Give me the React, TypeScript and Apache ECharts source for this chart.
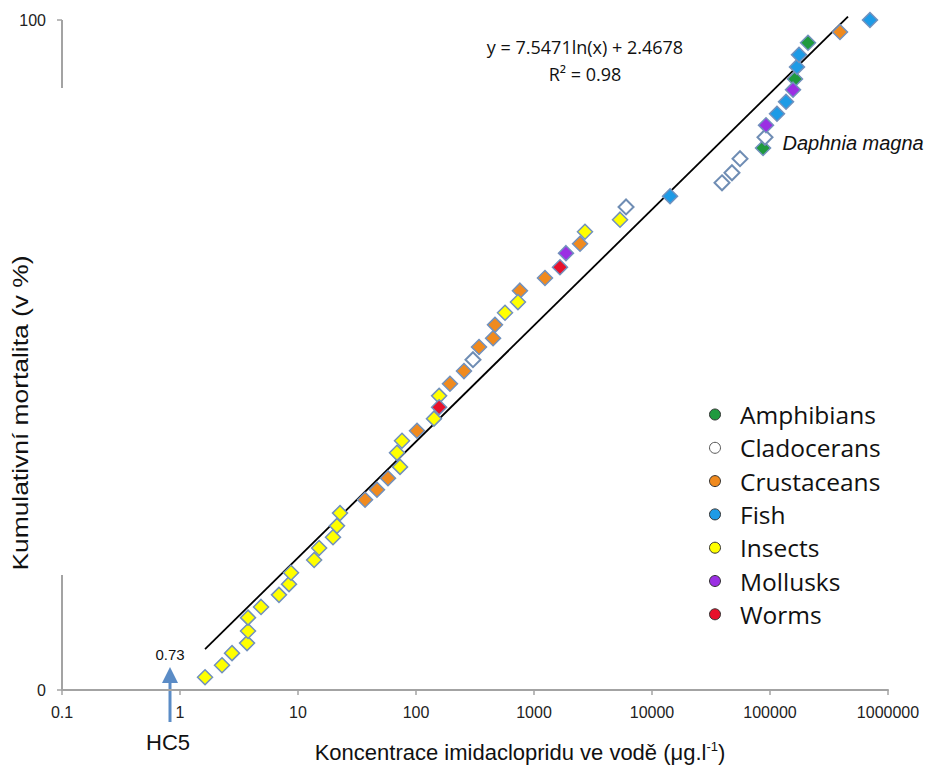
import React, { useEffect, useRef } from "react";
import * as echarts from "echarts";

// ---- data ----
const categories = ["Amphibians", "Cladocerans", "Crustaceans", "Fish", "Insects", "Mollusks", "Worms"];

const amphibians: [number, number][] = [
  [87300, 80.9], [162900, 91.2], [209900, 96.6],
];
const cladocerans: [number, number][] = [
  [304, 49.3], [6026, 72.1], [39200, 75.7], [47600, 77.2], [55700, 79.3], [90700, 82.5],
];
const crustaceans: [number, number][] = [
  [37.0, 28.4], [46.7, 29.9], [57.9, 31.6], [102, 38.7], [194, 45.7], [255, 47.6],
  [342, 51.2], [450, 52.5], [467, 54.5], [760, 59.6], [1239, 61.5], [2455, 66.6], [391800, 98.2],
];
const fish: [number, number][] = [
  [14220, 73.7], [114600, 86.0], [136700, 87.8], [169300, 93.0], [176100, 94.8], [703400, 100],
];
const insects: [number, number][] = [
  [1.63, 1.9], [2.27, 3.7], [2.76, 5.5], [3.70, 7.0], [3.77, 8.8], [3.77, 10.8],
  [4.86, 12.4], [6.90, 14.2], [8.39, 15.8], [8.72, 17.5], [13.7, 19.4], [15.1, 21.2],
  [19.8, 22.8], [21.4, 24.5], [22.7, 26.4], [73.2, 33.3], [69.0, 35.4], [76.1, 37.2],
  [142, 40.5], [157, 43.9], [568, 56.3], [731, 57.9], [2704, 68.4], [5358, 70.2],
];
const mollusks: [number, number][] = [
  [1866, 65.2], [92500, 84.3], [156700, 89.6],
];
const worms: [number, number][] = [
  [157, 42.2], [1660, 63.1],
];
const seriesValues = [amphibians, cladocerans, crustaceans, fish, insects, mollusks, worms];

// end points of the fitted trend line y = 7.5471 ln(x) + 2.4678
const trendLine: [number, number][] = [[1.63, 6.1], [458000, 100.5]];

const xTickLabels = ["0.1", "1", "10", "100", "1000", "10000", "100000", "1000000"];
const yTickLabels = ["0", "100"];

const equationText = "y = 7.5471ln(x) + 2.4678";
const r2Text = "R² = 0.98";
const hc5Value = "0.73";
const labelledPoint = 90700; // Daphnia magna (Cladocerans)

// ---- styles ----
const fillColors: Record<string, string> = {
  Amphibians: "#1f9a3e",
  Cladocerans: "#ffffff",
  Crustaceans: "#f08a1e",
  Fish: "#1e9be6",
  Insects: "#ffff00",
  Mollusks: "#9b2fe3",
  Worms: "#e8112b",
};

export default function App() {
  const ref = useRef<HTMLDivElement>(null);

  useEffect(() => {
    document.body.style.margin = "0";
    if (!ref.current) return;
    const chart = echarts.init(ref.current, null, { renderer: "svg" });

    const scatterSeries = categories.map((name, i) => ({
      name,
      type: "scatter",
      symbol: "diamond",
      symbolSize: 15,
      itemStyle: {
        color: fillColors[name],
        borderColor: name === "Cladocerans" ? "#6f8db4" : "#7191bd",
        borderWidth: name === "Cladocerans" ? 2 : 1.5,
        opacity: 1,
      },
      z: 3,
      data: seriesValues[i].map((p) =>
        name === "Cladocerans" && p[0] === labelledPoint
          ? {
              value: p,
              label: {
                show: true,
                position: "right",
                distance: 9,
                offset: [0, 6],
                formatter: "Daphnia magna",
                fontFamily: "Liberation Sans",
                fontStyle: "italic",
                fontSize: 20,
                color: "#111",
              },
            }
          : p
      ),
    }));

    const option: any = {
      animation: false,
      backgroundColor: "#ffffff",
      grid: { left: 62, right: 54, top: 20, bottom: 88 },
      xAxis: {
        type: "log",
        logBase: 10,
        min: 0.1,
        max: 1000000,
        splitNumber: 7,
        axisLine: { show: true, lineStyle: { color: "#a3a3a3", width: 2 } },
        axisTick: { show: true, length: 5, lineStyle: { color: "#a3a3a3", width: 1.5 } },
        axisLabel: {
          margin: 14,
          fontFamily: "Liberation Sans",
          fontSize: 16,
          color: "#222",
          formatter: (v: number) => {
            const e = Math.round(Math.log10(v));
            return xTickLabels[e + 1] ?? "";
          },
        },
        splitLine: { show: false },
        minorTick: { show: false },
      },
      yAxis: {
        type: "value",
        min: 0,
        max: 100,
        interval: 100,
        axisLine: { show: false },
        axisTick: { show: true, length: 5, lineStyle: { color: "#a3a3a3", width: 1.5 } },
        axisLabel: {
          margin: 16,
          fontFamily: "Liberation Sans",
          fontSize: 16,
          color: "#222",
          formatter: (v: number) => (v === 0 ? yTickLabels[0] : v === 100 ? yTickLabels[1] : ""),
        },
        splitLine: { show: false },
      },
      legend: {
        orient: "vertical",
        left: 704,
        top: 397,
        icon: "circle",
        itemWidth: 40,
        itemHeight: 11,
        itemGap: 8.3,
        selectedMode: false,
        textStyle: { fontFamily: "Open Sans", fontSize: 24.5, color: "#111", lineHeight: 24 },
        data: categories.map((name) => ({
          name,
          itemStyle: {
            color: fillColors[name],
            borderColor: name === "Cladocerans" ? "#555" : "#333",
            borderWidth: 1,
          },
        })),
      },
      series: [
        {
          name: "trend",
          type: "line",
          data: trendLine,
          symbol: "none",
          clip: false,
          lineStyle: { color: "#000", width: 1.8 },
          z: 2,
          silent: true,
        },
        ...scatterSeries,
      ],
      graphic: [
        // partial y axis line as in the reference
        { type: "line", shape: { x1: 62, y1: 20, x2: 62, y2: 88 }, style: { stroke: "#a3a3a3", lineWidth: 2 } },
        { type: "line", shape: { x1: 62, y1: 575, x2: 62, y2: 690 }, style: { stroke: "#a3a3a3", lineWidth: 2 } },
        {
          type: "text",
          x: 585,
          y: 47,
          style: { text: equationText, fontFamily: "Open Sans", fontSize: 18, fill: "#111", textAlign: "center", textVerticalAlign: "middle" },
        },
        {
          type: "text",
          x: 585,
          y: 74,
          style: { text: r2Text, fontFamily: "Open Sans", fontSize: 18, fill: "#111", textAlign: "center", textVerticalAlign: "middle" },
        },
        {
          type: "text",
          x: 170,
          y: 654,
          style: { text: hc5Value, fontFamily: "Liberation Sans", fontSize: 15, fill: "#111", textAlign: "center", textVerticalAlign: "middle" },
        },
        { type: "line", shape: { x1: 170, y1: 722, x2: 170, y2: 678 }, style: { stroke: "#5b8cc6", lineWidth: 3 } },
        { type: "polygon", shape: { points: [[162, 683], [170, 667], [178, 683]] }, style: { fill: "#5b8cc6" } },
        {
          type: "text",
          x: 168,
          y: 742,
          style: { text: "HC5", fontFamily: "Liberation Sans", fontSize: 22, fill: "#111", textAlign: "center", textVerticalAlign: "middle" },
        },
        {
          type: "text",
          x: 520,
          y: 752,
          style: {
            text: "{a|Koncentrace imidaclopridu ve vodě (μg.l}{s|-1}{a|)}",
            textAlign: "center",
            textVerticalAlign: "middle",
            rich: {
              a: { fontFamily: "Liberation Sans", fontSize: 22, fill: "#111", lineHeight: 24 },
              s: { fontFamily: "Liberation Sans", fontSize: 13, fill: "#111", lineHeight: 24, verticalAlign: "top" },
            },
          },
        },
        {
          type: "text",
          x: 20,
          y: 413,
          rotation: Math.PI / 2,
          scaleX: 1.2,
          style: {
            text: "Kumulativní mortalita (v %)",
            fontFamily: "Liberation Sans",
            fontSize: 22,
            fill: "#111",
            textAlign: "center",
            textVerticalAlign: "middle",
          },
        },
      ],
    };

    chart.setOption(option);
    return () => chart.dispose();
  }, []);

  return <div ref={ref} style={{ width: 942, height: 778 }} />;
}
